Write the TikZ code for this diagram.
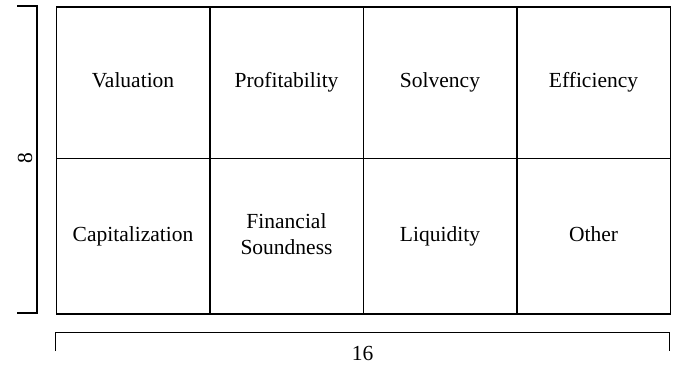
\documentclass[tikz,border=0pt]{standalone}
\usepackage{fontspec}
\setmainfont{Liberation Serif}
\begin{document}
\begin{tikzpicture}[x=1pt,y=-1pt,
  cell/.style={draw=black,line width=1.5pt,rectangle,minimum width=153.5pt,anchor=north west,inner sep=0pt,align=center,font=\fontsize{21.5}{26}\selectfont},
  toprow/.style={cell,minimum height=151.5pt},
  botrow/.style={cell,minimum height=155.5pt},
  brk/.style={draw=black,line width=1.5pt},
  lbl/.style={font=\fontsize{21.5}{26}\selectfont}]
\useasboundingbox (0,0) rectangle (681,367);
\node[toprow] (val) at (55.5,6) {\strut Valuation};
\node[toprow] (pro) at (209,6) {\strut Profitability};
\node[toprow] (sol) at (362.5,6) {\strut Solvency};
\node[toprow] (eff) at (516,6) {\strut Efficiency};
\node[botrow] (cap) at (55.5,157.5) {\strut Capitalization};
\node[botrow] (fin) at (209,157.5) {\strut Financial\\\strut Soundness};
\node[botrow] (liq) at (362.5,157.5) {\strut Liquidity};
\node[botrow] (oth) at (516,157.5) {\strut Other};
\coordinate (lt) at (17,6);
\coordinate (lb) at (17,313);
\draw[brk] (lt) -- (37,6) -- (37,313) -- (lb);
\node[lbl,rotate=90] (h) at (25,158) {8};
\coordinate (bl) at (55.5,351);
\coordinate (br) at (669.5,351);
\draw[brk] (bl) -- (55.5,332.5) -- (669.5,332.5) -- (br);
\node[lbl] (w) at (362.5,353) {16};
\end{tikzpicture}
\end{document}
